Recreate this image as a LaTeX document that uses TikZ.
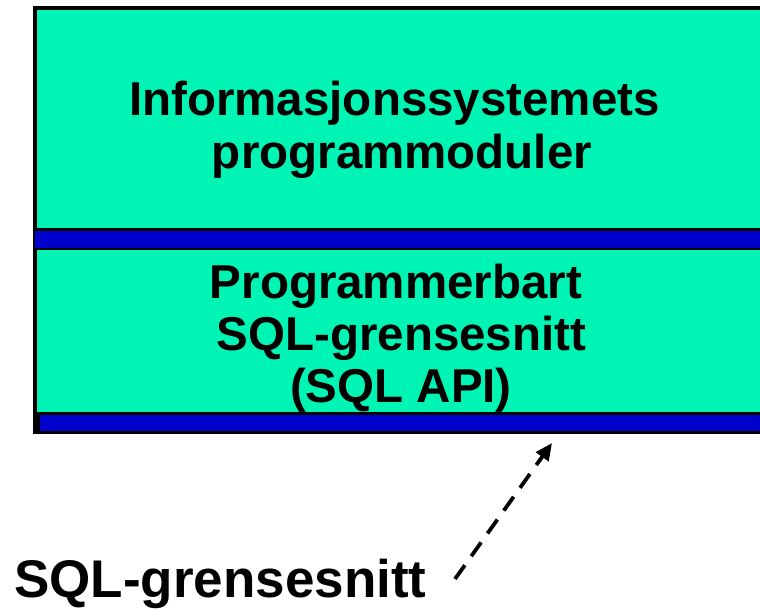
\documentclass[tikz,border=0pt]{standalone}
\usepackage{fontspec}
\setmainfont{Liberation Sans}
\usetikzlibrary{arrows.meta}
\definecolor{layergreen}{RGB}{0,244,180}
\definecolor{layerblue}{RGB}{0,0,204}
\tikzset{
  layerbox/.style={fill=layergreen, draw=black, line width=4pt},
  bar/.style={fill=layerblue, draw=black, line width=2.5pt},
  boxtext/.style={font=\fontsize{47.5}{53}\selectfont\bfseries, inner sep=0pt, anchor=base},
  bigtext/.style={font=\fontsize{53}{60}\selectfont\bfseries, inner sep=0pt, anchor=base west},
  pointer/.style={draw=black, line width=3.8pt, dash pattern=on 17pt off 11pt,
    -{Triangle[length=17pt,width=15pt]}}
}
\begin{document}
\begin{tikzpicture}[x=1pt,y=-1pt]
  \useasboundingbox (0,0) rectangle (760,611);
  \begin{scope}
    \clip (0,0) rectangle (760,611);
    % the two stacked layers and their interface bars
    \draw[layerbox] (35,7.7) rectangle (820,432);
    \draw[bar] (34,229.5) rectangle (820,249);
    \draw[bar] (38.5,413.5) rectangle (820,432);
  \end{scope}
  % upper layer
  \node[boxtext] (modA) at (394.5,115) {Informasjonssystemets};
  \node[boxtext] (modB) at (402,168) {programmoduler};
  % lower layer
  \node[boxtext] (apiA) at (396,298) {Programmerbart};
  \node[boxtext] (apiB) at (401.5,350) {SQL-grensesnitt};
  \node[boxtext] (apiC) at (401,402) {(SQL API)};
  % caption with pointer to the lower interface bar
  \node[bigtext] (sqlif) at (14,597) {SQL-grensesnitt};
  \coordinate (tail) at (455,579);
  \coordinate (tip) at (552,443);
  \draw[pointer] (tail) -- (tip);
\end{tikzpicture}
\end{document}
